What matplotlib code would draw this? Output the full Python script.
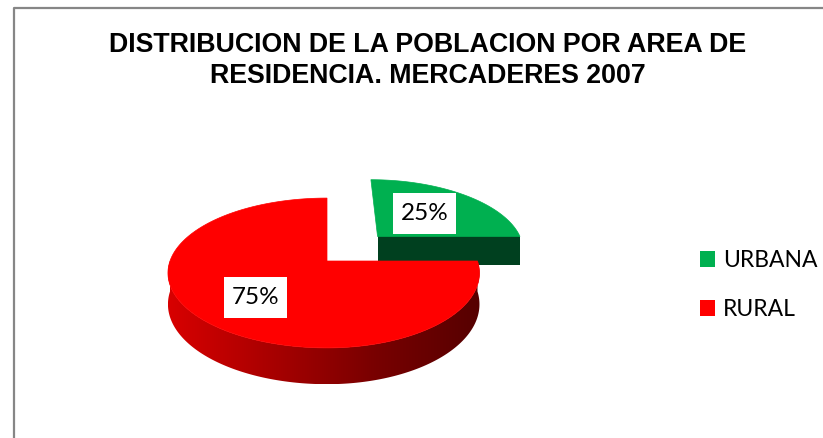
import numpy as np
import matplotlib
matplotlib.use('Agg')
import matplotlib.pyplot as plt
from matplotlib.colors import LinearSegmentedColormap
from matplotlib.patches import Patch, Polygon

labels = ['URBANA', 'RURAL']
shares = [25, 75]
share_text = ['25%', '75%']
colors = ['#00B050', '#FF0000']
title = 'DISTRIBUCION DE LA POBLACION POR AREA DE\nRESIDENCIA. MERCADERES 2007'

# pie drawn as a flat disc seen in perspective, all in pixels
x0, y0 = 327, 261
R_right, R_left, S, k, D = 150.5, 157, 73, 0.16, 30.5
explode = 0.355


def project(u, v, z=0.0):
    w = 1 + k*v
    r = np.where(np.asarray(u) < 0, R_left, R_right)
    return x0 + r*u/w, y0 - S*v/w + D*z/w


def arc(a1, a2, dx=0.0, dy=0.0, z=0.0, n=200):
    t = np.radians(np.linspace(a1, a2, n))
    return project(np.cos(t)+dx, np.sin(t)+dy, z)


fig = plt.figure(figsize=(8.23, 4.38), dpi=100)
ax = fig.add_axes([0, 0, 1, 1])
ax.set_xlim(0, 823)
ax.set_ylim(438, 0)
ax.axis('off')

ax.plot([14.5, 14.5, 823], [438, 8, 8], color='#868686', lw=1.6, solid_capstyle='butt')

# slices run clockwise from 12 o'clock
a_start = 90
a_end = 90 - shares[0]/sum(shares)*360

# green slice
mid = np.radians((a_start+a_end)/2)
dx, dy = explode*np.cos(mid)*2**0.5, explode*np.sin(mid)*2**0.5
ax_, ay_ = project(dx, dy)
bx, by = project(dx+np.cos(np.radians(a_end)), dy+np.sin(np.radians(a_end)))
bx2, by2 = project(dx+np.cos(np.radians(a_end)), dy+np.sin(np.radians(a_end)), 1)
ax2, ay2 = project(dx, dy, 1)
ax.add_patch(Polygon([[ax_, ay_], [bx, by], [bx2, by2], [ax2, ay2]], fc='#00401F', ec='none'))
gx, gy = arc(a_start, a_end, dx, dy)
ax.fill(np.r_[ax_, gx], np.r_[ay_, gy], color=colors[0], lw=0.5)

# red side, shaded left to right
tx, ty = arc(180, 360)
bx_, by_ = arc(360, 180, z=1)
side = Polygon(np.c_[np.r_[tx, bx_], np.r_[ty, by_]], fc='none', ec='none')
ax.add_patch(side)
cmap = LinearSegmentedColormap.from_list('side', ['#D80000', '#A80000', '#780000', '#560000'])
im = ax.imshow(np.linspace(0, 1, 256)[None, :], cmap=cmap, aspect='auto',
               extent=[tx.min(), tx.max(), by_.max(), ty.min()], zorder=1)
im.set_clip_path(side)
ax.set_xlim(0, 823)
ax.set_ylim(438, 0)

# red slice
rx, ry = arc(a_end, a_end-shares[1]/sum(shares)*360)
apex_x, apex_y = project(0.0, 0.0)
ax.fill(np.r_[apex_x, rx], np.r_[apex_y, ry], color=colors[1], lw=0.5, zorder=2)

# data labels
for txt, (lx, ly) in zip(share_text, [(424.5, 213), (255.5, 297)]):
    ax.add_patch(Polygon([[lx-31.5, ly-20.5], [lx+31.5, ly-20.5], [lx+31.5, ly+20.5], [lx-31.5, ly+20.5]],
                         fc='white', ec='none', zorder=3))
    ax.text(lx, ly, txt, family='Lato', fontsize=17.5, color='black', ha='center', va='center', zorder=4)

ax.text(428, 60.5, title, family='Liberation Sans', weight='bold', fontsize=19.25, color='black',
        ha='center', va='center', linespacing=1.25)

handles = [Patch(fc=c, ec='none', label=l) for c, l in zip(colors, labels)]
leg = ax.legend(handles=handles, loc='upper left', bbox_to_anchor=(700/823, 1-250/438), frameon=False,
                handlelength=0.65, handleheight=0.65, handletextpad=0.35, labelspacing=1.23,
                borderaxespad=0, borderpad=0, prop={'family': 'Lato', 'size': 16.5})
for t in leg.get_texts():
    t.set_color('black')

fig.savefig('out.png', dpi=100)
